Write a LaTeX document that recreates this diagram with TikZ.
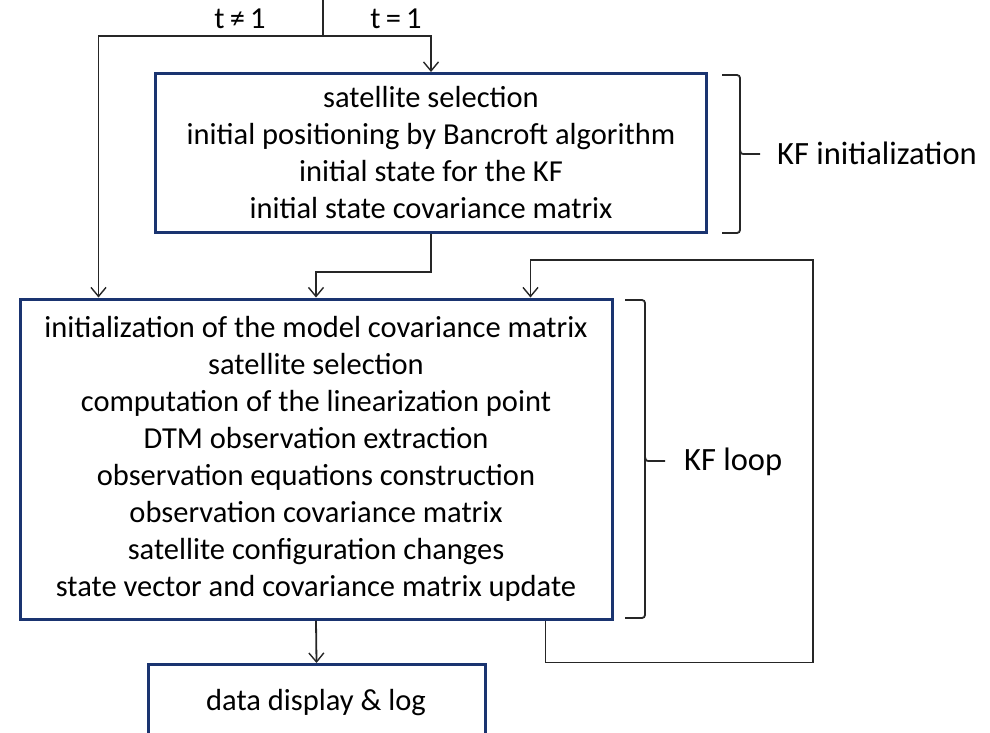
\documentclass[tikz,border=0pt]{standalone}
\usepackage{fontspec}
\setmainfont{Carlito}
\usetikzlibrary{arrows.meta,calc}
\definecolor{boxblue}{HTML}{1A3470}
\begin{document}
\begin{tikzpicture}[x=1pt,y=-1pt,
  box/.style={draw=boxblue,line width=3pt,align=center,inner sep=0pt,
    font=\fontsize{30.5}{37}\selectfont},
  conn/.style={line width=1.8pt,draw=black!85},
  arr/.style={conn,-{Straight Barb[length=9pt,width=15pt,line width=1.4pt]}},
  lab/.style={font=\fontsize{30.5}{36}\selectfont,inner sep=0pt},
  side/.style={font=\fontsize{32.5}{36}\selectfont,inner sep=0pt,anchor=west},
  brace/.style={line width=1.8pt,draw=black!85,rounded corners=3pt}]
\useasboundingbox (0,0) rectangle (990,732);
\clip (0,0) rectangle (990,732);

% boxes
\node[box,minimum width=551pt,minimum height=159pt] (b1) at (431,153)
  {satellite selection\\initial positioning by Bancroft algorithm\\initial state for the KF\\initial state covariance matrix};
\node[box,minimum width=592pt,minimum height=320pt] (b2) at (316,459)
  {initialization of the model covariance matrix\\satellite selection\\computation of the linearization point\\DTM observation extraction\\observation equations construction\\observation covariance matrix\\satellite configuration changes\\state vector and covariance matrix update};
\node[box,minimum width=337pt,minimum height=130pt,anchor=north] (b3) at (316.5,663) {};
\node[lab] (t3) at (316,703) {data display \& log};

% labels on the split
\node[lab] (lne) at (240,19) {t\,≠\,1};
\node[lab] (leq) at (396,19) {t\,=\,1};

% connectors
\coordinate (top) at (323,0);
\coordinate (split) at (323,36);
\coordinate (loopR) at (813,260);
\draw[conn] (top) -- (split);
\draw[arr] (split) -| (b1.north);
\draw[arr] (split) -| ($(b2.north west)+(80,0)$);
\draw[arr] (b1.south) -- ++(0,38) -| (b2.north);
\draw[arr] ($(b2.south west)+(527,0)$) -- ++(0,42) -| (loopR) -| ($(b2.north west)+(512,0)$);
\draw[arr] (b2.south) -- (b3.north);

% braces
\draw[brace] (722,75) -- (740,75) -- (740,233) -- (722,233);
\draw[conn] (740,150) .. controls (741,154) .. (746,154) -- (760,154);
\node[side] (kfi) at (777,153) {KF initialization};
\draw[brace] (625,300) -- (645,300) -- (645,618) -- (625,618);
\draw[conn] (645,457) .. controls (646,461) .. (651,461) -- (665,461);
\node[side] (kfl) at (684,462) {KF loop};
\end{tikzpicture}
\end{document}
